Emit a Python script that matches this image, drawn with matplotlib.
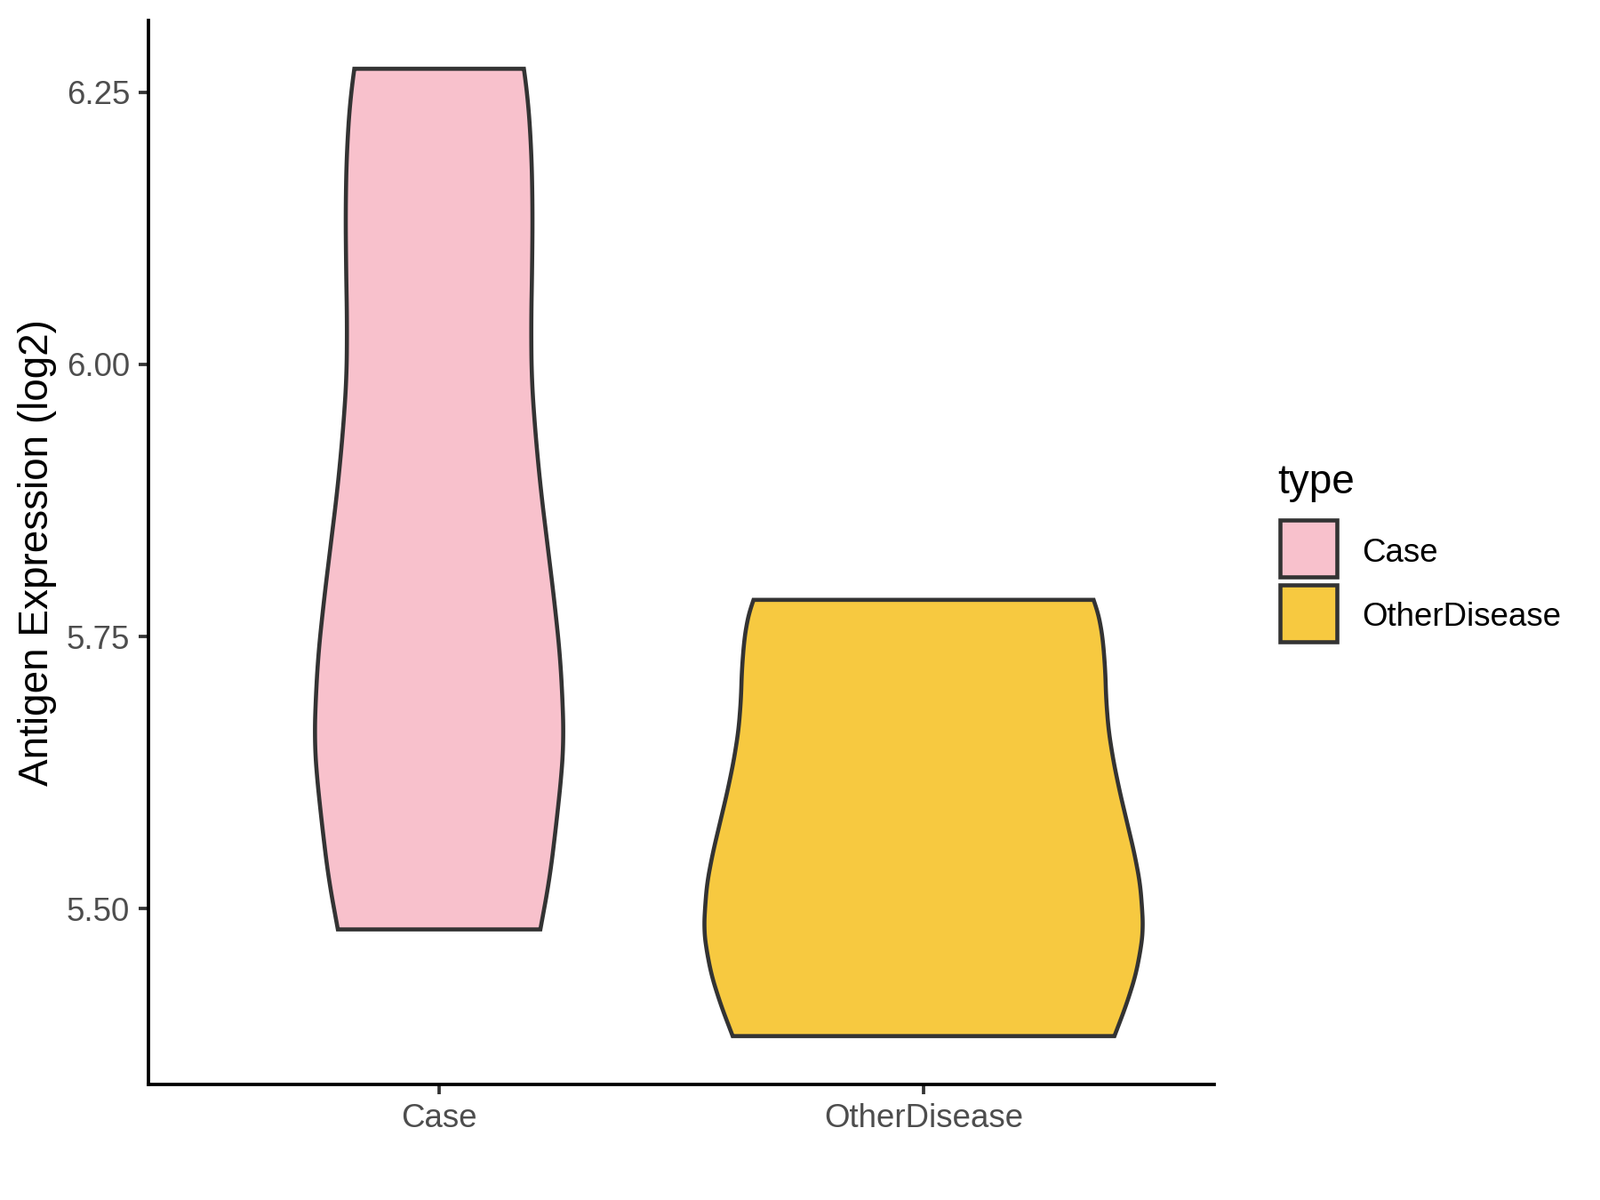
import numpy as np
import matplotlib
matplotlib.use("Agg")
import matplotlib.pyplot as plt
from matplotlib.patches import Rectangle

plt.rcParams['font.family'] = ['Liberation Sans', 'DejaVu Sans']

# ---- data ----
categories = ['Case', 'OtherDisease']
positions = [1, 2]

# violin density profiles: y level and half-width (in category units)
case_y = [6.2715, 6.2419, 6.1908, 6.1397, 6.0887, 6.0376, 5.9866, 5.9355, 5.8844,
          5.8334, 5.7823, 5.7312, 5.6802, 5.6546, 5.6291, 5.5780, 5.5270, 5.4810]
case_halfwidth = [0.175, 0.184, 0.191, 0.193, 0.192, 0.190, 0.191, 0.199, 0.210,
                  0.224, 0.238, 0.250, 0.256, 0.257, 0.254, 0.242, 0.228, 0.209]

other_y = [5.7837, 5.7758, 5.7618, 5.7478, 5.7197, 5.6917, 5.6636, 5.6355, 5.6075,
           5.5794, 5.5514, 5.5233, 5.4952, 5.4812, 5.4672, 5.4391, 5.4110, 5.3830]
other_halfwidth = [0.351, 0.358, 0.365, 0.370, 0.375, 0.377, 0.382, 0.392, 0.405,
                   0.420, 0.435, 0.447, 0.452, 0.453, 0.450, 0.438, 0.418, 0.394]

yticks = [5.50, 5.75, 6.00, 6.25]
ytick_labels = ['5.50', '5.75', '6.00', '6.25']
colors = ['#F8C1CC', '#F7C940']
edge = '#333333'


def smooth_profile(ys, ws, n=400, win=25):
    """Interpolate the read-off profile on a fine y grid and lightly smooth it."""
    ys = np.asarray(ys, float)
    ws = np.asarray(ws, float)
    order = np.argsort(ys)
    ys, ws = ys[order], ws[order]
    grid = np.linspace(ys[0], ys[-1], n)
    w = np.interp(grid, ys, ws)
    pad = win // 2
    # reflect-pad with linear extrapolation to preserve end values
    left = 2 * w[0] - w[1:pad + 1][::-1]
    right = 2 * w[-1] - w[-pad - 1:-1][::-1]
    wp = np.concatenate([left, w, right])
    kern = np.ones(win) / win
    ws_s = np.convolve(wp, kern, mode='valid')
    ws_s[0], ws_s[-1] = w[0], w[-1]
    return grid, ws_s


fig = plt.figure(figsize=(6, 4.5), dpi=300)
ax = fig.add_axes([167 / 1800, 130 / 1350, 1199 / 1800, 1197 / 1350])

profiles = [(case_y, case_halfwidth), (other_y, other_halfwidth)]
for pos, (ys, ws), col in zip(positions, profiles, colors):
    yy, ww = smooth_profile(ys, ws)
    xs = np.concatenate([pos + ww, (pos - ww)[::-1]])
    ysp = np.concatenate([yy, yy[::-1]])
    ax.fill(xs, ysp, facecolor=col, edgecolor=edge, linewidth=1.1, zorder=2)

ax.set_xlim(0.4, 2.6)
ax.set_ylim(5.3386, 6.3159)
ax.set_xticks(positions)
ax.set_xticklabels(categories)
ax.set_yticks(yticks)
ax.set_yticklabels(ytick_labels)

for s in ['top', 'right']:
    ax.spines[s].set_visible(False)
for s in ['left', 'bottom']:
    ax.spines[s].set_color('black')
    ax.spines[s].set_linewidth(0.9)

ax.tick_params(axis='both', length=2.6, width=0.9, color='#333333',
               labelsize=8.8, labelcolor='#4D4D4D', pad=2.4)

fig.text(42 / 1800, 1 - 621.5 / 1350, 'Antigen Expression (log2)', rotation=90,
         ha='center', va='center', fontsize=11, color='black')

# legend (manual, ggplot style)
fig.text(1437 / 1800, 1 - 555 / 1350, 'type', ha='left', va='baseline',
         fontsize=11, color='black')
key_tops = [583, 655]
label_centers = [618, 690]
for col, top, lc, lab in zip(colors, key_tops, label_centers, categories):
    r = Rectangle(((1437 + 2.5) / 1800, 1 - (top + 69 - 2.5) / 1350),
                  (69 - 5) / 1800, (69 - 5) / 1350, transform=fig.transFigure,
                  facecolor=col, edgecolor=edge, linewidth=1.1)
    fig.patches.append(r)
    fig.text(1532 / 1800, 1 - lc / 1350, lab, ha='left', va='center_baseline',
             fontsize=8.8, color='black')

fig.savefig('out.png', dpi=300, facecolor='white')
